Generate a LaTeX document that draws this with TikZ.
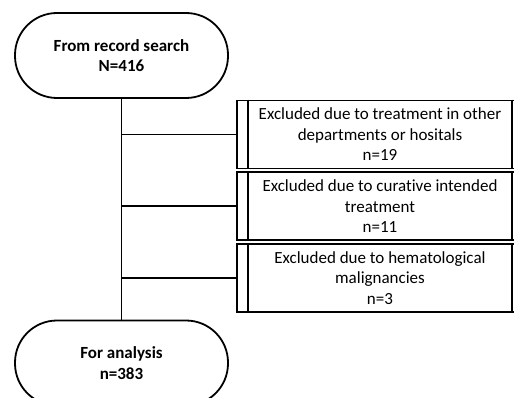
\documentclass[tikz,border=0pt]{standalone}
\usepackage{fontspec}
\setmainfont{Carlito}[Ligatures=NoCommon]
\usetikzlibrary{positioning}

\begin{document}
\begin{tikzpicture}[x=1pt,y=-1pt,line width=1.8pt,
  terminal/.style={draw,rounded corners=42pt,minimum width=213pt,minimum height=85pt,
    align=center,font=\bfseries\fontsize{17}{20.5}\selectfont},
  exclbox/.style={draw,minimum width=286pt,minimum height=68pt,
    align=center,font=\fontsize{17}{20.5}\selectfont}]
  \useasboundingbox (0,0) rectangle (514,398);
  \node[terminal] (search) at (121.5,55.5) {From record search\\N=416};
  \node[terminal] (analysis) at (121.5,363) {For analysis\\n=383};

  \node[exclbox] (other) at (380,134.5) {Excluded due to treatment in other\\departments or hositals\\n=19};
  \node[exclbox,below=2pt of other] (curative) {Excluded due to curative intended\\treatment\\n=11};
  \node[exclbox,below=2pt of curative] (hemato) {Excluded due to hematological\\malignancies\\n=3};

  \foreach \b in {other,curative,hemato} {
    \draw ([xshift=12pt]\b.north west) -- ([xshift=12pt]\b.south west);
    \draw ([xshift=-12pt]\b.north east) -- ([xshift=-12pt]\b.south east);
    \draw (search.south |- \b) -- (\b);
  }
  \draw (search) -- (analysis);
\end{tikzpicture}
\end{document}
